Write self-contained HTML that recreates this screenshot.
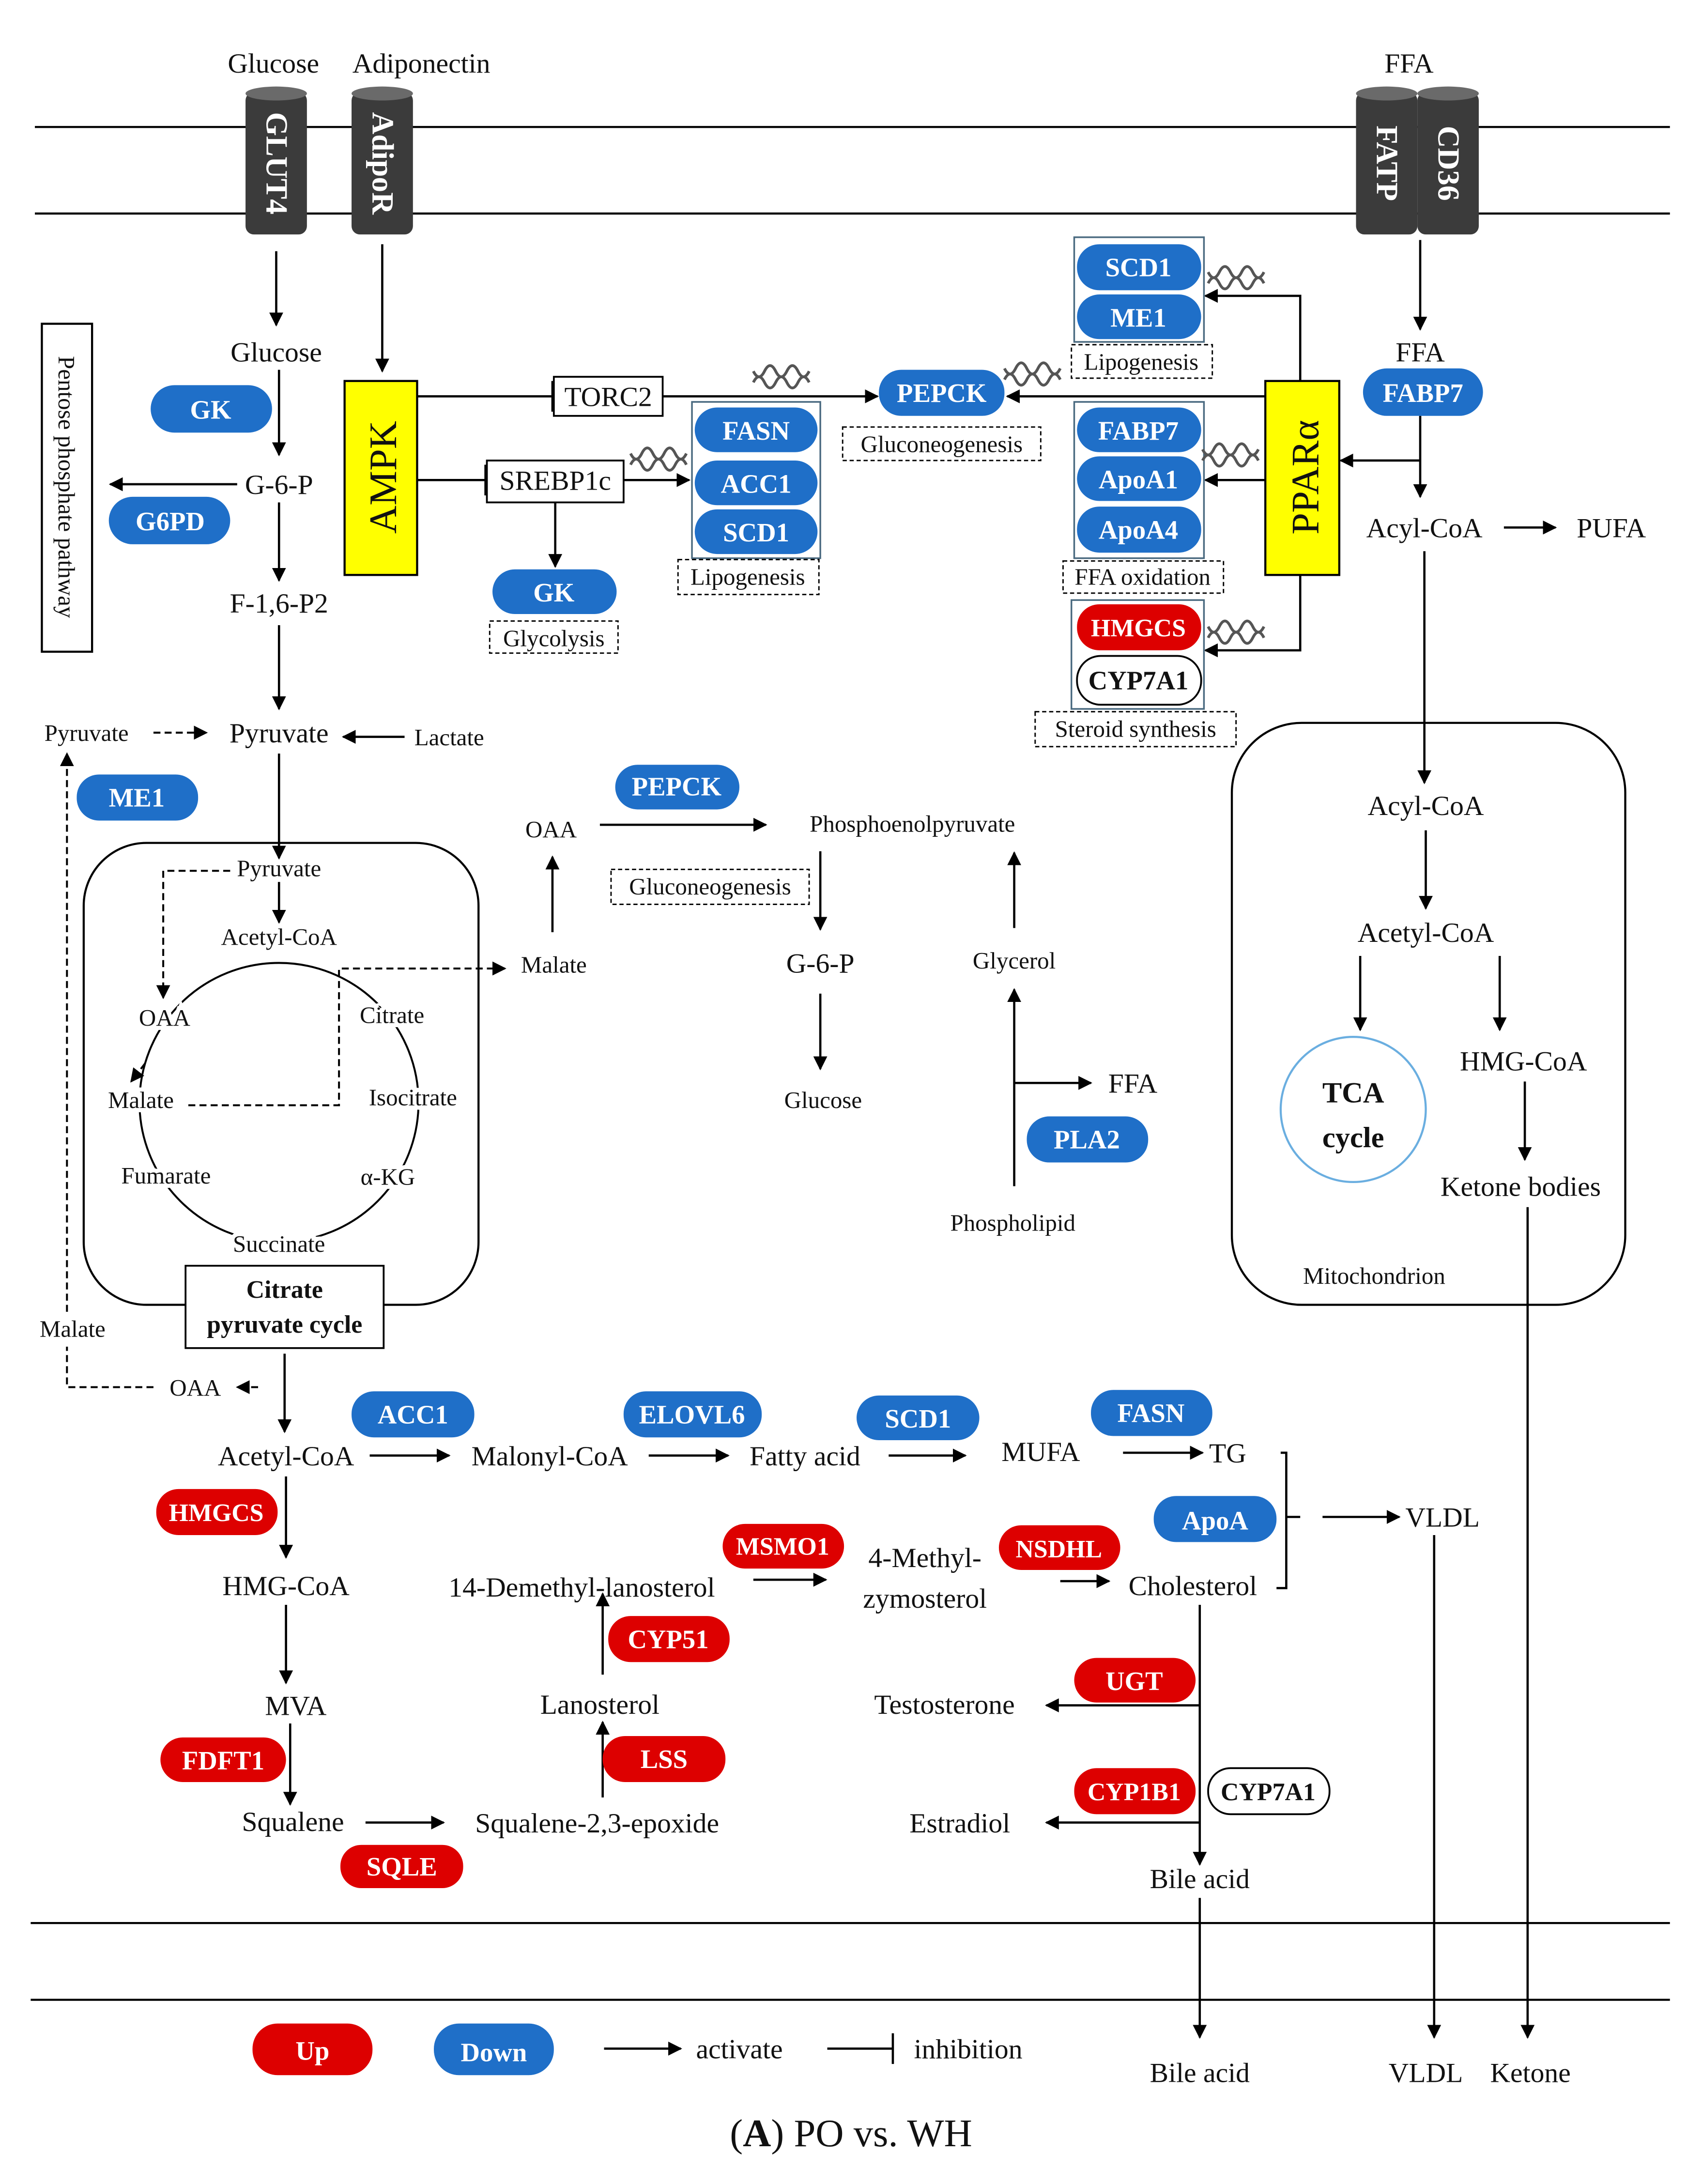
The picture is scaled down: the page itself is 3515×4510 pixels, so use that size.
<!DOCTYPE html>
<html><head><meta charset="utf-8"><style>
html,body{margin:0;padding:0;background:#fff;}
svg{display:block;}
text{font-family:"Liberation Serif",serif;fill:#111;}
.p{font-weight:bold;fill:#fff;font-size:19px;text-anchor:middle;}
.l{font-size:20px;text-anchor:middle;}
.s{font-size:17px;text-anchor:middle;}
.h{paint-order:stroke;stroke:#fff;stroke-width:6px;}
</style></head><body>
<svg width="3515" height="4510" viewBox="0 0 1220 1565" preserveAspectRatio="none" xmlns="http://www.w3.org/2000/svg">
<defs>
<marker id="a" markerWidth="10" markerHeight="10" refX="9" refY="5" orient="auto" markerUnits="userSpaceOnUse"><path d="M0,0 L10,5 L0,10 z" fill="#000"/></marker>
<g id="dna"><path d="M0,0 q4,8 8,0 t8,0 t8,0 t8,0 t8,0 M0,8 q4,-8 8,0 t8,0 t8,0 t8,0 t8,0" fill="none" stroke="#555" stroke-width="2"/></g>
</defs>
<rect width="1220" height="1565" fill="#fff"/>
<g stroke="#000" stroke-width="1.5">
<line x1="25" y1="91" x2="1197" y2="91"/><line x1="25" y1="153" x2="1197" y2="153"/>
<line x1="22" y1="1378" x2="1197" y2="1378"/><line x1="22" y1="1433" x2="1197" y2="1433"/>
</g>
<!-- cylinders -->
<g fill="#3b3b3b">
<rect x="176" y="66" width="44" height="102" rx="6"/><rect x="252" y="66" width="44" height="102" rx="6"/>
<rect x="972" y="66" width="44" height="102" rx="6"/><rect x="1016" y="66" width="44" height="102" rx="6"/>
</g>
<g fill="#6a6a6a"><ellipse cx="198" cy="67" rx="22" ry="5"/><ellipse cx="274" cy="67" rx="22" ry="5"/><ellipse cx="994" cy="67" rx="22" ry="5"/><ellipse cx="1038" cy="67" rx="22" ry="5"/></g>
<g font-weight="bold" font-size="22">
<text transform="translate(191,117) rotate(90)" text-anchor="middle" style="fill:#fff">GLUT4</text>
<text transform="translate(267,117) rotate(90)" text-anchor="middle" style="fill:#fff">AdipoR</text>
<text transform="translate(987,117) rotate(90)" text-anchor="middle" style="fill:#fff">FATP</text>
<text transform="translate(1031,117) rotate(90)" text-anchor="middle" style="fill:#fff">CD36</text>
</g>
<text class="l" x="196" y="52">Glucose</text><text class="l" x="302" y="52">Adiponectin</text><text class="l" x="1010" y="52">FFA</text>

<g stroke="#000" stroke-width="1.6" fill="none" marker-end="url(#a)">
<line x1="198" y1="180" x2="198" y2="233"/>
<line x1="274" y1="175" x2="274" y2="266"/>
<line x1="200" y1="265" x2="200" y2="326"/>
<line x1="170" y1="347" x2="79" y2="347"/>
<line x1="200" y1="360" x2="200" y2="416"/>
<line x1="200" y1="448" x2="200" y2="508"/>
<line x1="475" y1="284" x2="629" y2="284"/>
<line x1="447" y1="344" x2="494" y2="344"/>
<line x1="398" y1="360" x2="398" y2="406"/>
<polyline points="932,273 932,212 864,212"/>
<line x1="907" y1="284" x2="722" y2="284"/>
<line x1="907" y1="344" x2="864" y2="344"/>
<polyline points="932,412 932,466 864,466"/>
<line x1="1018" y1="172" x2="1018" y2="236"/>
<line x1="1018" y1="298" x2="1018" y2="356"/>
<polyline points="1018,330 961,330"/>
<line x1="1078" y1="378" x2="1115" y2="378"/>
<line x1="1021" y1="395" x2="1021" y2="561"/>
<line x1="1022" y1="595" x2="1022" y2="651"/>
<line x1="975" y1="685" x2="975" y2="738"/>
<line x1="1075" y1="685" x2="1075" y2="738"/>
<line x1="1093" y1="775" x2="1093" y2="831"/>
<line x1="1095" y1="865" x2="1095" y2="1460"/>
<line x1="290" y1="528" x2="246" y2="528"/>
<line x1="200" y1="540" x2="200" y2="615"/>
<line x1="200" y1="632" x2="200" y2="661"/>
<line x1="396" y1="668" x2="396" y2="614"/>
<line x1="430" y1="591" x2="549" y2="591"/>
<line x1="588" y1="610" x2="588" y2="666"/>
<line x1="588" y1="712" x2="588" y2="766"/>
<line x1="727" y1="665" x2="727" y2="611"/>
<line x1="727" y1="850" x2="727" y2="709"/>
<line x1="727" y1="776" x2="782" y2="776"/>
<line x1="204" y1="970" x2="204" y2="1026"/>
<line x1="265" y1="1043" x2="322" y2="1043"/>
<line x1="465" y1="1043" x2="522" y2="1043"/>
<line x1="637" y1="1043" x2="692" y2="1043"/>
<line x1="805" y1="1041" x2="862" y2="1041"/>
<line x1="948" y1="1087" x2="1003" y2="1087"/>
<line x1="1028" y1="1100" x2="1028" y2="1460"/>
<line x1="205" y1="1058" x2="205" y2="1116"/>
<line x1="205" y1="1150" x2="205" y2="1206"/>
<line x1="208" y1="1235" x2="208" y2="1293"/>
<line x1="262" y1="1306" x2="318" y2="1306"/>
<line x1="432" y1="1288" x2="432" y2="1234"/>
<line x1="432" y1="1200" x2="432" y2="1142"/>
<line x1="540" y1="1132" x2="592" y2="1132"/>
<line x1="760" y1="1133" x2="795" y2="1133"/>
<line x1="860" y1="1150" x2="860" y2="1336"/>
<polyline points="860,1222 750,1222"/>
<polyline points="860,1306 750,1306"/>
<line x1="860" y1="1360" x2="860" y2="1460"/>
<line x1="433" y1="1468" x2="488" y2="1468"/>
</g>
<g stroke="#000" stroke-width="1.6" fill="none">
<line x1="299" y1="284" x2="396" y2="284"/><line x1="396" y1="273" x2="396" y2="295"/>
<line x1="299" y1="344" x2="348" y2="344"/><line x1="348" y1="333" x2="348" y2="355"/>
<polyline points="918,1041 922,1041 922,1138 915,1138"/><line x1="922" y1="1087" x2="932" y2="1087"/>
<line x1="593" y1="1468" x2="640" y2="1468"/><line x1="640" y1="1457" x2="640" y2="1479"/>
</g>
<g stroke="#000" stroke-width="1.4" fill="none" stroke-dasharray="5,3">
<line x1="110" y1="525" x2="148" y2="525" marker-end="url(#a)"/>
<polyline points="48,940 48,540" marker-end="url(#a)"/>
<polyline points="165,624 117,624 117,715" marker-end="url(#a)"/>
<polyline points="135,792 243,792 243,694 362,694" marker-end="url(#a)"/>
<polyline points="110,994 48,994 48,965"/>
<line x1="185" y1="994" x2="170" y2="994" marker-end="url(#a)"/>
<line x1="104" y1="762" x2="94" y2="775" marker-end="url(#a)"/>
</g>
<!-- pentose -->
<rect x="30" y="232" width="36" height="235" fill="#fff" stroke="#000" stroke-width="1.5"/>
<text transform="translate(42,349) rotate(90)" text-anchor="middle" font-size="17">Pentose phosphate pathway</text>
<!-- AMPK / PPAR -->
<rect x="247" y="273" width="52" height="139" fill="#ffff00" stroke="#000" stroke-width="1.5"/>
<text transform="translate(284,342) rotate(-90)" text-anchor="middle" font-size="28">AMPK</text>
<rect x="907" y="273" width="53" height="139" fill="#ffff00" stroke="#000" stroke-width="1.5"/>
<text transform="translate(945,342) rotate(-90)" text-anchor="middle" font-size="28">PPARα</text>
<!-- boxes -->
<rect x="397" y="270" width="78" height="28" fill="#fff" stroke="#000" stroke-width="1.3"/><text class="l" x="436" y="291">TORC2</text>
<rect x="349" y="330" width="98" height="30" fill="#fff" stroke="#000" stroke-width="1.3"/><text class="l" x="398" y="351">SREBP1c</text>
<g fill="none" stroke="#4a6a80" stroke-width="1.2">
<rect x="496" y="288" width="92" height="112"/><rect x="770" y="170" width="93" height="75"/><rect x="770" y="288" width="93" height="112"/><rect x="768" y="430" width="95" height="78"/>
</g>
<g fill="#fff" stroke="#000" stroke-width="1" stroke-dasharray="3,2">
<rect x="351" y="445" width="92" height="23"/><rect x="486" y="401" width="101" height="25"/><rect x="604" y="306" width="142" height="24"/>
<rect x="768" y="247" width="101" height="24"/><rect x="762" y="402" width="115" height="23"/><rect x="742" y="510" width="144" height="25"/>
<rect x="438" y="623" width="142" height="25"/>
</g>
<g class="s" font-size="17" text-anchor="middle">
<text x="397" y="463">Glycolysis</text><text x="536" y="419">Lipogenesis</text><text x="675" y="324">Gluconeogenesis</text>
<text x="818" y="265">Lipogenesis</text><text x="819" y="419">FFA oxidation</text><text x="814" y="528">Steroid synthesis</text>
<text x="509" y="641">Gluconeogenesis</text>
</g>
<use href="#dna" x="540" y="266"/><use href="#dna" x="452" y="325"/><use href="#dna" x="720" y="264"/>
<use href="#dna" x="866" y="195"/><use href="#dna" x="862" y="322"/><use href="#dna" x="866" y="449"/>
<!-- pills -->
<g fill="#1f6fc8">
<rect x="108" y="276" width="87" height="34" rx="17"/><rect x="78" y="356" width="87" height="34" rx="17"/>
<rect x="353" y="408" width="89" height="32" rx="16"/>
<rect x="498" y="292" width="88" height="32" rx="16"/><rect x="498" y="330" width="88" height="32" rx="16"/><rect x="498" y="365" width="88" height="32" rx="16"/>
<rect x="630" y="265" width="90" height="33" rx="16"/>
<rect x="772" y="175" width="89" height="33" rx="16"/><rect x="772" y="211" width="89" height="32" rx="16"/>
<rect x="772" y="292" width="89" height="32" rx="16"/><rect x="772" y="327" width="89" height="32" rx="16"/><rect x="772" y="363" width="89" height="33" rx="16"/>
<rect x="977" y="264" width="86" height="34" rx="17"/>
<rect x="55" y="555" width="87" height="33" rx="16"/><rect x="441" y="548" width="89" height="32" rx="16"/>
<rect x="736" y="800" width="87" height="33" rx="16"/>
<rect x="252" y="997" width="88" height="33" rx="16"/><rect x="447" y="997" width="99" height="33" rx="16"/>
<rect x="614" y="1000" width="88" height="32" rx="16"/><rect x="782" y="996" width="87" height="33" rx="16"/>
<rect x="827" y="1072" width="88" height="33" rx="16"/>
<rect x="311" y="1450" width="86" height="37" rx="18"/>
</g>
<g fill="#dd0000">
<rect x="772" y="433" width="89" height="33" rx="16"/>
<rect x="112" y="1067" width="87" height="33" rx="16"/><rect x="518" y="1092" width="87" height="32" rx="16"/><rect x="716" y="1093" width="87" height="32" rx="16"/>
<rect x="436" y="1158" width="87" height="33" rx="16"/><rect x="432" y="1244" width="88" height="33" rx="16"/>
<rect x="115" y="1245" width="90" height="32" rx="16"/><rect x="244" y="1322" width="88" height="31" rx="15"/>
<rect x="770" y="1188" width="87" height="32" rx="16"/><rect x="770" y="1267" width="87" height="33" rx="16"/>
<rect x="181" y="1450" width="86" height="37" rx="18"/>
</g>
<g fill="#fff" stroke="#000" stroke-width="1.3">
<rect x="772" y="470" width="89" height="35" rx="17"/><rect x="866" y="1267" width="87" height="33" rx="16"/>
</g>
<g class="p">
<text x="151" y="300" class="p">GK</text><text x="122" y="380" class="p">G6PD</text><text x="397" y="431" class="p">GK</text>
<text x="542" y="315" class="p">FASN</text><text x="542" y="353" class="p">ACC1</text><text x="542" y="388" class="p">SCD1</text>
<text x="675" y="288" class="p">PEPCK</text>
<text x="816" y="198" class="p">SCD1</text><text x="816" y="234" class="p">ME1</text>
<text x="816" y="315" class="p">FABP7</text><text x="816" y="350" class="p">ApoA1</text><text x="816" y="386" class="p">ApoA4</text>
<text x="816" y="456" class="p" style="font-size:18px">HMGCS</text>
<text x="1020" y="288" class="p">FABP7</text><text x="98" y="578" class="p">ME1</text><text x="485" y="570" class="p">PEPCK</text>
<text x="779" y="823" class="p">PLA2</text>
<text x="296" y="1020" class="p">ACC1</text><text x="496" y="1020" class="p">ELOVL6</text><text x="658" y="1023" class="p">SCD1</text><text x="825" y="1019" class="p">FASN</text>
<text x="871" y="1096" class="p">ApoA</text>
<text x="155" y="1090" class="p" style="font-size:18px">HMGCS</text><text x="561" y="1114" class="p" style="font-size:18px">MSMO1</text><text x="759" y="1116" class="p" style="font-size:18px">NSDHL</text>
<text x="479" y="1181" class="p">CYP51</text><text x="476" y="1267" class="p">LSS</text><text x="160" y="1268" class="p">FDFT1</text><text x="288" y="1344" class="p">SQLE</text>
<text x="813" y="1211" class="p">UGT</text><text x="813" y="1290" class="p" style="font-size:18px">CYP1B1</text>
<text x="224" y="1476" class="p">Up</text><text x="354" y="1477" class="p">Down</text>
</g>
<text x="816" y="494" text-anchor="middle" font-size="19" font-weight="bold">CYP7A1</text>
<text x="909" y="1290" text-anchor="middle" font-size="18" font-weight="bold">CYP7A1</text>
<!-- labels -->
<g class="l">
<text x="198" y="259">Glucose</text><text x="200" y="354">G-6-P</text><text x="200" y="439">F-1,6-P2</text>
<text x="1018" y="259">FFA</text><text x="1021" y="385">Acyl-CoA</text><text x="1155" y="385">PUFA</text>
<text x="1022" y="584">Acyl-CoA</text><text x="1022" y="675">Acetyl-CoA</text><text x="1092" y="767">HMG-CoA</text><text x="1090" y="857">Ketone bodies</text>
<text x="200" y="532">Pyruvate</text><text x="588" y="697">G-6-P</text><text x="812" y="783">FFA</text>
<text x="205" y="1050">Acetyl-CoA</text><text x="394" y="1050">Malonyl-CoA</text><text x="577" y="1050">Fatty acid</text><text x="746" y="1047">MUFA</text><text x="880" y="1048">TG</text>
<text x="1034" y="1094">VLDL</text><text x="205" y="1143">HMG-CoA</text><text x="417" y="1144">14-Demethyl-lanosterol</text>
<text x="663" y="1123">4-Methyl-</text><text x="663" y="1152">zymosterol</text><text x="855" y="1143">Cholesterol</text>
<text x="212" y="1229">MVA</text><text x="430" y="1228">Lanosterol</text><text x="677" y="1228">Testosterone</text>
<text x="210" y="1312">Squalene</text><text x="428" y="1313">Squalene-2,3-epoxide</text><text x="688" y="1313">Estradiol</text>
<text x="860" y="1353">Bile acid</text><text x="860" y="1492">Bile acid</text><text x="1022" y="1492">VLDL</text><text x="1097" y="1492">Ketone</text>
<text x="530" y="1475">activate</text><text x="694" y="1475">inhibition</text>
</g>
<g class="s">
<text x="62" y="531">Pyruvate</text><text x="322" y="534">Lactate</text>
<text x="395" y="600">OAA</text><text x="397" y="697">Malate</text><text x="654" y="596">Phosphoenolpyruvate</text>
<text x="590" y="794">Glucose</text><text x="727" y="694">Glycerol</text><text x="726" y="882">Phospholipid</text>
<text x="52" y="958">Malate</text><text x="140" y="1000">OAA</text><text x="985" y="920">Mitochondrion</text>
</g>
<!-- mito -->
<rect x="883" y="518" width="282" height="417" rx="50" fill="none" stroke="#000" stroke-width="1.5"/>
<circle cx="970" cy="795" r="52" fill="#fff" stroke="#6aaee0" stroke-width="1.5"/>
<text x="970" y="790" text-anchor="middle" font-size="21" font-weight="bold">TCA</text>
<text x="970" y="822" text-anchor="middle" font-size="21" font-weight="bold">cycle</text>
<!-- citrate pyruvate cycle -->
<rect x="60" y="604" width="283" height="331" rx="45" fill="none" stroke="#000" stroke-width="1.5"/>
<circle cx="200" cy="790" r="100" fill="none" stroke="#000" stroke-width="1.4"/>
<g class="s h">
<text x="200" y="628">Pyruvate</text><text x="200" y="677">Acetyl-CoA</text>
<text x="118" y="735">OAA</text><text x="281" y="733">Citrate</text>
<text x="101" y="794">Malate</text><text x="296" y="792">Isocitrate</text>
<text x="119" y="848">Fumarate</text><text x="278" y="849">α-KG</text><text x="200" y="897">Succinate</text>
</g>
<rect x="133" y="907" width="142" height="59" fill="#fff" stroke="#000" stroke-width="1.3"/>
<text x="204" y="930" text-anchor="middle" font-size="18" font-weight="bold">Citrate</text>
<text x="204" y="955" text-anchor="middle" font-size="18" font-weight="bold">pyruvate cycle</text>
<text x="610" y="1538" text-anchor="middle" font-size="28">(<tspan font-weight="bold">A</tspan>) PO vs. WH</text>
</svg>
</body></html>
